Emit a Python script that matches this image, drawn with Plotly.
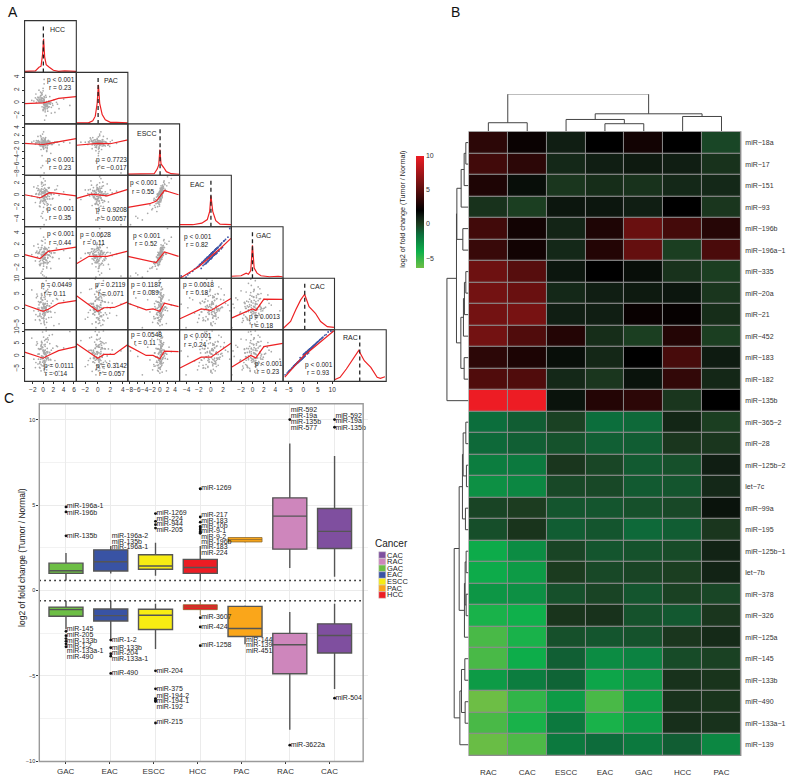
import plotly.graph_objects as go

W, H = 787, 780
FONT = "Liberation Sans"

# ---------- Panel A data: log2 fold change per miRNA ----------
cancers_a = ["HCC", "PAC", "ESCC", "EAC", "GAC", "CAC", "RAC"]
hcc = [0.2,-0.4,0.6,0.1,-0.9,1.1,0.3,-0.2,0.8,-0.6,0.4,1.6,
       -0.1,0.5,-1.3,0.2,0.9,-0.3,0.0,1.3,-0.7,0.7,0.1,-1.8,
       0.4,2.1,-0.5,0.3,-0.1,1.0,0.6,-1.0,0.2,1.9,-0.2,0.5,
       -0.8,0.1,1.4,-0.4,0.3,0.8,-1.5,0.0,0.6,2.6,-0.3,0.2,
       1.2,-0.6,0.4,-0.1,0.9,0.1,-1.1,0.7,3.1,-0.2,0.3,1.5,
       -0.5,0.2,0.5,-2.2,0.0,1.1,-0.4,0.6,0.2,1.8,-0.9,0.4,
       0.3,-0.3,0.8,2.3,-0.7,0.1,0.5,1.0,-1.4,-0.1,0.7,4.0,
       -0.2,0.4,1.3,-0.6,0.2,-1.0,0.9,0.0,2.8,-0.4,0.6,5.2,
       0.1,0.3,-0.7,0.5,0.2,-0.2,0.9,-0.1,0.4,-1.2,0.7,0.0,
       0.6,-0.4,0.2,1.2,-0.3,0.3,-0.8,0.1,1.6,-0.5,0.4,0.2]
pac = [0.5,0.1,-0.6,-0.2,0.8,0.3,-0.1,1.3,-0.9,0.2,-0.4,-1.6,
       0.7,-0.2,0.1,1.0,-0.5,0.4,-1.2,0.0,0.6,0.2,-0.7,0.3,
       -0.3,0.5,1.7,-0.8,0.2,-0.1,-2.0,0.9,0.3,-0.4,0.1,1.2,
       0.4,-1.0,-0.2,0.6,0.0,-0.5,0.8,2.3,-0.3,0.1,1.5,-0.7,
       -0.1,0.9,-1.4,0.3,-0.6,0.2,0.5,-0.2,-0.9,0.7,-2.7,0.1,
       1.1,-0.3,-0.8,0.4,1.9,0.0,0.6,-0.5,3.0,-0.1,0.2,-1.1,
       0.8,0.3,-0.4,-1.5,0.1,0.5,-0.2,-0.7,1.4,0.2,-0.3,0.6,
       -0.6,-0.1,1.0,0.3,3.7,0.4,-1.3,0.7,-0.2,0.1,0.9,-0.4,
       0.2,-0.8,0.5,0.0,-0.3,1.6,-0.1,0.3,-0.5,0.6,0.1,-1.0,
       -0.2,1.2,0.4,-0.6,0.8,-0.4,2.0,0.1,-0.7,0.3,-0.1,0.5]
escc = [-0.2,0.6,0.1,-0.7,0.4,-0.1,1.0,0.3,-1.4,0.2,0.5,-0.3,
        0.3,-1.1,0.7,0.0,-0.5,0.2,1.4,-0.2,0.4,-2.1,0.1,0.6,
        0.9,0.0,-0.4,0.5,-0.9,-0.1,0.3,1.8,-0.6,0.2,-3.2,0.4,
        -0.3,0.7,0.1,-1.6,0.5,0.2,-0.2,0.8,-4.6,0.3,1.2,0.0,
        0.4,-0.6,0.2,2.4,-0.1,-1.2,0.6,0.1,-0.4,0.9,0.3,-2.6,
        -0.5,0.1,1.5,0.3,-0.8,0.5,-6.3,0.2,0.0,-0.3,0.7,1.1,
        0.6,-0.2,-1.0,0.4,0.1,3.0,-0.6,0.8,0.2,-0.1,-1.9,0.3,
        0.0,1.3,0.5,-0.4,-7.7,0.2,0.6,-0.7,0.3,1.7,-0.2,0.1,
        -1.3,0.4,-0.1,0.7,0.2,-0.5,0.3,-5.8,0.9,0.1,-0.3,0.5,
        0.2,-0.7,0.6,0.0,1.0,-0.2,0.4,-1.5,0.1,2.0,0.3,-0.4]
eac = [-0.5,0.9,-0.4,-1.3,0.2,0.5,1.2,-0.1,-1.7,0.7,0.1,0.3,
       0.6,-0.7,0.3,-0.9,0.1,1.1,1.0,-0.6,0.4,-2.4,-0.2,1.4,
       0.5,0.2,-1.1,0.8,-0.3,-1.5,0.9,1.6,0.0,-0.5,-3.0,0.6,
       0.1,1.7,0.3,-0.8,-0.2,0.7,-1.2,0.4,-4.1,1.0,1.9,-0.3,
       1.3,-1.9,0.2,2.1,0.6,-2.0,-0.4,0.9,0.0,1.5,-0.7,-1.6,
       -1.0,0.4,0.8,-0.1,-2.7,1.2,-3.5,0.3,0.7,-0.6,1.1,2.4,
       0.0,0.5,-1.4,0.9,-0.5,2.8,-0.2,1.3,0.2,-1.0,-2.2,0.6,
       -0.4,1.8,0.3,-1.3,-4.9,0.8,-0.1,-0.8,1.6,0.7,0.2,-0.7,
       -0.9,0.1,-1.8,1.0,0.5,0.3,-0.6,-3.8,0.8,1.2,-0.3,0.4,
       -1.1,0.2,0.6,-0.2,2.2,-1.5,0.9,-0.5,0.1,3.1,-0.9,0.0]
gac = [-0.2,1.2,-0.7,-1.0,0.6,0.2,1.6,-0.4,-1.3,1.1,-0.2,0.6,
       0.3,-1.1,0.7,-0.5,-0.3,1.5,0.6,-0.9,0.8,-2.0,-0.5,1.8,
       0.2,0.6,-1.4,1.3,-0.1,-1.1,0.5,2.1,-0.4,-0.2,-2.6,0.3,
       0.5,1.3,0.0,-1.2,-0.5,1.1,-0.8,0.1,-3.6,1.4,1.5,0.1,
       1.0,-1.5,0.6,2.6,0.3,-1.7,-0.1,1.3,-0.4,1.9,-0.3,-2.1,
       -0.7,0.8,0.4,0.3,-2.2,1.5,-2.9,0.7,0.4,-0.2,1.5,2.9,
       0.4,0.2,-1.0,0.6,-0.9,3.3,0.2,0.9,0.6,-0.7,-1.8,1.0,
       -0.1,2.3,0.7,-1.6,-3.4,0.5,0.3,-1.2,2.0,0.4,0.5,-0.3,
       -1.3,0.5,-1.4,1.4,0.2,0.7,-0.2,-3.2,1.2,0.9,-0.7,0.8,
       -0.7,-0.2,0.9,0.2,2.7,-1.1,0.6,-0.9,0.5,4.8,-0.5,0.3]
cac = [-1.2,3.4,0.6,-3.0,2.5,-0.9,0.1,4.6,1.8,-1.5,0.4,-2.8,
       2.9,0.2,3.8,-4.0,-1.1,5.2,-0.4,1.0,-2.3,6.1,1.5,-0.6,
       4.1,-5.6,2.2,0.8,-1.8,5.7,-3.4,0.3,-4.7,2.7,3.1,-1.3,
       1.4,6.8,-0.8,-2.6,0.9,4.9,-3.7,2.0,-6.3,3.5,0.5,-1.6,
       7.4,-2.0,1.7,3.0,-0.3,-3.2,4.3,1.1,-5.0,0.1,5.5,-1.0,
       2.4,-4.3,0.7,6.4,-1.4,-2.9,3.7,0.0,-2.2,7.9,-0.7,1.9,
       -5.3,4.0,2.6,-1.2,-3.6,1.3,5.9,-0.2,-1.9,8.6,-4.5,2.8,
       -0.5,0.6,4.4,-3.9,1.6,-2.5,6.6,0.2,3.2,-4.9,9.5,10.0,
       0.8,-1.7,2.1,-0.1,3.9,-3.1,1.2,0.4,-2.0,5.0,-0.9,1.6,
       -0.3,2.3,-2.4,0.9,4.7,-1.0,0.3,-3.3,1.9,-0.6,3.3,0.5]
rac = [-1.7,3.9,0.1,-3.6,3.0,-1.5,0.7,5.3,1.3,-2.1,0.9,-3.4,
       3.4,-0.3,4.4,-4.8,-0.6,5.9,-0.9,1.5,-2.9,6.8,2.0,-1.2,
       4.7,-6.7,2.9,1.2,-2.4,6.5,-4.1,0.8,-5.6,3.2,3.6,-1.9,
       0.9,7.6,-1.3,-3.3,1.5,5.6,-4.5,2.5,-7.4,4.1,0.1,-2.2,
       8.3,-2.5,2.3,3.6,-0.8,-3.9,5.0,1.7,-6.0,-0.4,6.2,-1.5,
       3.0,-5.2,1.2,7.2,-1.9,-3.6,4.3,0.5,-2.8,8.6,-1.2,2.4,
       -6.3,4.6,3.1,-1.7,-4.4,1.8,6.7,-0.7,-2.5,9.6,-5.4,3.3,
       -1.0,1.1,5.0,-4.7,2.1,-3.1,7.3,-0.2,3.8,-5.8,10.0,9.8,
       1.3,-2.3,2.7,-0.7,4.5,-3.8,1.8,-0.1,-2.6,5.7,-1.4,2.2,
       -0.9,2.9,-3.0,1.4,5.4,-1.6,0.8,-4.0,2.4,-1.2,3.9,1.0]
series_a = [hcc, pac, escc, eac, gac, cac, rac]

col_ranges = [(-3.6,6.46),(-3.43,4.8),(-8.4,5.17),(-5.16,3.36),(-3.7,5.36),(-7,10.8),(-10,10.5)]
row_ranges = [None,(-3.3,4.8),(-8.3,5.05),(-5.25,3.35),(-3.8,5.1),(-7,10.3),(-10,10.5)]
col_ticks = [[-2,0,2,4,6],[-2,0,2,4],[-8,-6,-4,-2,0,2,4],[-4,-2,0,2],[-2,0,2,4],[-5,0,5,10],[]]
row_ticks = [[],[-2,0,2,4],[-8,-6,-4,-2,0,2,4],[-4,-2,0,2],[-2,0,2,4],[-5,0,5,10],[-5,0,5,10]]
grid_left = [22.7,74.7,126.5,178.5,230.5,282.5,334.2,386.2]
grid_top = [16.8,69,121,172.8,224.8,276.8,328.7,380.8]

# smooth (row, col): x values, y values
smooth = {
 (1,0):([-3.6,0,1,3,6.4],[-0.1,0,0.2,0.7,1]),
 (2,0):([-3.6,0,1,6.4],[0,-0.3,-0.1,1.2]),
 (2,1):([-3.4,0,2,4.8],[-0.5,0,-0.1,0.9]),
 (3,0):([-3.6,-0.5,1.2,2,6.4],[0.1,-0.4,0.45,0.4,-0.1]),
 (3,1):([-3.4,-1,1.5,4.8],[-0.5,0.2,-0.1,1]),
 (3,2):([-8.4,-2.7,-1,0,1.2,4.9],[-2,-1.4,-1,-0.1,0.8,0.1]),
 (4,0):([-3.6,-0.6,1,2,6.4],[0.3,-0.4,0.85,1,1.6]),
 (4,1):([-3.4,-1.4,1.5,4.8],[-1.3,0,0,0.9]),
 (4,2):([-8.4,-1,1.2,4.9],[0,-1.1,0.75,0]),
 (4,3):([-5.1,-2,0,1.5,3.3],[-3.8,-1.8,0,1.3,3.1]),
 (5,0):([-3.6,0,1,3,6.4],[1.4,-0.8,-0.1,1.9,2.8]),
 (5,1):([-3.4,0,1,2.6,4.8],[4.4,-0.8,0.4,0.5,2.4]),
 (5,2):([-8.4,-3.6,-1.8,0,1.2,4.9],[1.9,-0.3,0,-0.8,1.9,0.8]),
 (5,3):([-5.1,-1.6,0,3.3],[-3.3,0,-0.5,3.5]),
 (5,4):([-3.6,0,0.6,2,5.3],[-3,0,-0.5,3.3,3.2]),
 (6,0):([-3.6,0,1,3,6.4],[1.6,-0.8,0.3,2.2,3.8]),
 (6,1):([-3.4,0,1,2.6,4.8],[4.9,-0.8,0.7,0.7,4.6]),
 (6,2):([-8.4,-3.6,-1.8,0,1.2,4.9],[4.2,0.3,0.3,-1,2,1.8]),
 (6,3):([-5.1,-1.6,0,3.3],[-4.7,-0.4,-0.4,5.1]),
 (6,4):([-3.6,-0.3,0.6,2,5.3],[-4.3,0.3,-0.7,3.8,5.1]),
 (6,5):([-6.4,0,10.6],[-8.3,0,10.1]),
}
# density curves on diagonal: x, relative height
density_x = [
 [-3.6,-1.5,-0.8,-0.4,-0.1,0.1,0.3,0.6,1.2,2,3,4.2,6.4],
 [-3.4,-1.5,-0.8,-0.4,-0.1,0.1,0.3,0.7,1.2,2,3,4.8],
 [-8.4,-3,-1.5,-0.7,-0.3,0,0.3,1,1.7,3,5.1],
 [-5.1,-3,-1.5,-0.6,-0.2,0,0.3,0.8,1.5,3.3],
 [-3.7,-2,-1.1,-0.7,-0.3,0,0.3,0.8,1.5,3,4.5,5.3],
 [-6.9,-4.4,-2.6,-0.9,0.46,2,4.2,6,8.3,10.6],
 [-10,-7.8,-5.3,-2.7,-0.4,1.8,4.4,6.9,8.2,10],
]
density_h = [
 [.02,.03,.1,.12,.35,.65,.3,.15,.1,.04,.02,.03,.02],
 [.02,.02,.06,.15,.4,.76,.4,.18,.08,.03,.03,.02],
 [.02,.02,.03,.12,.2,.5,.22,.15,.07,.03,.02],
 [.04,.04,.07,.14,.3,.6,.3,.12,.05,.04],
 [.04,.05,.1,.08,.15,.64,.2,.1,.05,.03,.04,.03],
 [.03,.16,.39,.58,.69,.45,.32,.16,.06,.045],
 [.03,.08,.24,.43,.6,.4,.27,.08,.06,.09],
]
diag_center = [0.05, 0.05, 0.05, 0, 0, 0.5, 0]
# (row, col): p text, r text, p-centre px, r-centre px
stats = [
 (1,0,"p < 0.001","r = 0.23",(59.3,76.7),(59.3,84.7)),
 (2,0,"p < 0.001","r = 0.23",(59.3,157),(59.3,165)),
 (2,1,"p = 0.7723","r = −0.017",(110.3,157),(110.3,165)),
 (3,0,"p < 0.001","r = 0.35",(59.3,207),(59.3,215)),
 (3,1,"p = 0.9208","r = 0.0057",(110.3,208),(110.3,216)),
 (3,2,"p < 0.001","r = 0.55",(142.7,181),(142.7,189)),
 (4,0,"p < 0.001","r = 0.44",(59.3,232.3),(59.3,240.3)),
 (4,1,"p = 0.0628","r = 0.11",(93.7,233),(92.3,241)),
 (4,2,"p < 0.001","r = 0.52",(145.7,234),(145.7,242)),
 (4,3,"p < 0.001","r = 0.82",(196.7,234.7),(196.7,242.7)),
 (5,0,"p = 0.0449","r = 0.11",(55,284),(53.3,292)),
 (5,1,"p = 0.2119","r = 0.071",(109.3,284),(109.3,292)),
 (5,2,"p = 0.1187","r = 0.089",(145.7,283.3),(145,291.3)),
 (5,3,"p = 0.0018","r = 0.18",(197.7,283.3),(196.7,291.3)),
 (5,4,"p = 0.0013","r = 0.18",(264.3,316),(262.3,324)),
 (6,0,"p = 0.0111","r = 0.14",(57,365.3),(55,373.3)),
 (6,1,"p = 0.3142","r = 0.057",(110.3,365.3),(110.3,373.3)),
 (6,2,"p = 0.0548","r = 0.11",(145.7,334),(144,342)),
 (6,3,"p < 0.001","r = 0.24",(196.7,335.3),(194.3,343.3)),
 (6,4,"p < 0.001","r = 0.23",(268.3,363.3),(268.3,371.3)),
 (6,5,"p < 0.001","r = 0.93",(319,364),(318.3,372)),
]
diag_label_pos = [(55.3,25.7),(109.7,77.3),(145.7,130.3),(196,182.3),(263,233.7),(316.7,285.3),(350.3,337)]

# ---------- Panel C data ----------
cats_c = ["GAC","EAC","ESCC","HCC","PAC","RAC","CAC"]
box_colors = ["#6DBE45","#3953A4","#F7EC13","#ED1C24","#FAA61A","#CE86BC","#7F4F9F"]
up_low  = [0.58,1.0,0.87,0.58,2.8,1.32,0.81]
up_q1   = [1.0,1.14,1.24,1.0,2.84,2.42,2.46]
up_med  = [1.16,1.68,1.43,1.35,2.98,4.35,3.46]
up_q3   = [1.6,2.38,2.09,1.82,3.1,5.42,4.8]
up_high = [2.19,2.6,2.8,2.6,3.1,8.6,7.87]
dn_low  = [-2.26,-2.84,-3.42,-1.45,-3.15,-8.14,-5.76]
dn_q1   = [-1.51,-1.78,-2.28,-1.12,-2.69,-4.87,-3.66]
dn_med  = [-1.12,-1.47,-1.45,-0.97,-2.22,-3.17,-2.63]
dn_q3   = [-0.97,-1.08,-1.10,-0.83,-0.93,-2.51,-1.95]
dn_high = [-0.6,-0.6,-0.77,-0.64,-0.87,-1.26,-0.77]
out_cat = [0,0,0, 0,0,0,0,0,0, 1,1,1,1,1, 2,2,2,2, 2,2,2,2,2,2,
           3,3,3,3,3,3,3,3,3,3, 3,3,3, 5,5, 6,6,6]
out_val = [4.89,4.6,3.2, -2.39,-2.64,-2.81,-2.97,-3.12,-3.29,
           -2.9,-3.35,-3.7,-3.84,-4.85,
           4.5,4.05,3.85,3.65, -4.7,-5.75,-6.32,-6.42,-6.5,-7.75,
           5.95,4.3,4.0,3.75,3.65,3.55,3.45,3.4,3.35,5.95,
           -1.59,-2.13,-3.23, 10,-9.05, 10,9.55,-6.3]
lab_cat = [0,0,0, 0,0,0,0,0,0, 1,1,1, 1,1,1,1,1, 2,2,2,2, 2,2,2,2,2,2,
           3, 3,3,3,3,3,3,3,3, 3,3,3, 4,4,4, 5,5,5,5,5, 6,6,6,6]
lab_val = [4.93,4.54,3.2, -2.27,-2.62,-2.95,-3.24,-3.54,-3.91,
           3.15,2.84,2.53, -2.9,-3.35,-3.68,-4.02,-4.85,
           4.54,4.15,3.87,3.51, -4.7,-5.75,-6.16,-6.5,-6.82,-7.72,
           5.98, 4.39,4.07,3.78,3.45,3.14,2.83,2.53,2.19, -1.55,-2.13,-3.23,
           -2.9,-3.2,-3.55, 10.53,10.2,9.83,9.49,-9.05, 10.2,9.89,9.51,-6.3]
lab_txt = ["miR-196a-1","miR-196b","miR-135b","miR-145","miR-205","miR-133b","miR-1-2","miR-133a-1","miR-490",
           "miR-196a-2","miR-135b","miR-196a-1","miR-1-2","miR-133b","miR-204","miR-133a-1","miR-490",
           "miR-1269","miR-224","miR-944","miR-205","miR-204","miR-375","miR-194-2","miR-194-1","miR-192","miR-215",
           "miR-1269","miR-217","miR-183","miR-10b","miR-9-1","miR-9-2","miR-196b","miR-183","miR-224","miR-3607","miR-424","miR-1258",
           "miR-144","miR-139","miR-451","miR-592","miR-19a","miR-135b","miR-577","miR-3622a",
           "miR-592","miR-19a","miR-135b","miR-504"]
legend_names = ["CAC","RAC","GAC","EAC","ESCC","PAC","HCC"]
legend_cols = ["#7F4F9F","#CE86BC","#6DBE45","#3953A4","#F7EC13","#FAA61A","#ED1C24"]

# ---------- Panel B data ----------
heat_cols = ["RAC","CAC","ESCC","EAC","GAC","HCC","PAC"]
heat_rows = ["miR−18a","miR−17","miR−151","miR−93","miR−196b","miR−196a−1","miR−335","miR−20a","miR−21",
             "miR−452","miR−183","miR−182","miR−135b","miR−365−2","miR−28","miR−125b−2","let−7c","miR−99a",
             "miR−195","miR−125b−1","let−7b","miR−378","miR−326","miR−125a","miR−145","miR−133b","miR−490",
             "miR−133a−1","miR−139"]
heat_z = [
 [3.5,2.35,1.05,2,2.6,2,-.3],
 [4.2,3.5,.7,1.05,1.2,1.05,.35],
 [3,1.55,.2,.55,.35,.7,.7],
 [.35,-.05,1.3,1.3,1.05,2,.2],
 [4.2,2.6,.85,3,5.55,4.3,3.3],
 [3.9,2.6,.7,3.2,5.4,-.05,4.5],
 [5.7,4.9,1.3,2,1.55,.35,-.05],
 [5.9,5.55,.7,1.05,1.2,1.3,.2],
 [5.9,6.05,1.05,1.05,2.3,2.2,.55],
 [5.9,4.7,3.2,.55,-.05,3.2,-.05],
 [3.5,2.95,1.55,.75,2,4.4,1.15],
 [4.7,4.7,.7,.2,1.4,3.7,.75],
 [10,10,1.4,3.2,3.5,.2,2],
 [-1.5,-1,-.15,-1.5,-1.35,.8,-.05],
 [-1.35,-1.05,-.65,-1.05,-1,.2,.2],
 [-2.05,-1.9,.2,-.3,-.9,-.6,1.05],
 [-2.8,-2.45,-.35,-.35,-.9,-.75,.7],
 [-.25,0,-.75,-.75,-.6,-.35,1.4],
 [-.55,.3,-1,-.75,-1.35,-1,.2],
 [-3.8,-2.65,-.25,-.75,-.65,-.45,.9],
 [-3.8,-3.2,.05,-.35,-.25,-.05,.9],
 [-3,-2.8,-.6,-.25,-.75,-.15,-.3],
 [-4.3,-4.05,.3,.35,-.65,-.85,.2],
 [-5.5,-4.3,-.6,-.75,-.65,.2,.65],
 [-5.5,-3.9,-1.05,-2.65,-2.25,-.45,-.15],
 [-3.2,-2.05,-1.2,-3.6,-3,.35,.3],
 [-6.4,-4.9,-3.2,-5.5,-3.3,.35,.3],
 [-5.5,-4.3,-1.9,-4.3,-3.2,.45,.35],
 [-6.3,-5.6,-1.9,-1.45,-1.9,-1,-2.45],
]
heat_stops = [(-6.4,"rgb(109,190,69)"),(-4,"rgb(13,176,75)"),(-1.5,"rgb(12,110,60)"),(0,"rgb(28,60,32)"),
              (1,"rgb(17,32,20)"),(2,"rgb(0,0,0)"),(6,"rgb(118,18,18)"),(10,"rgb(237,28,36)")]
# dendrograms: nested (left, right, height)
col_tree = ((0,1,8.7), ((2,(3,4,7.7),12), (5,6,15), 17.7), 37.7)
row_tree_top = (((((0,1,2.6),2,4.3),3,7.3),(4,5,5.6),11.6),
                ((((6,7,2.6),8,4),9,5),(10,11,4.3),7.6), 12)
row_tree_top = (row_tree_top,12,21.6)
row_tree_low1 = ((((13,14,2.6),(15,16,2),5.3),(17,18,3),6),
                 (((19,20,2.3),(21,22,2.3),3.3),23,4),9.3)
row_tree_low2 = (((24,25,3.6),(26,27,3.3),7),28,8.6)
row_tree_low = (row_tree_low1,row_tree_low2,14.3)

# ---------- helpers ----------
def fx(p): return p / W
def fy(p): return 1 - p / H
def dom_x(a, b): return [fx(a), fx(b)]
def dom_y(a, b): return [fy(b), fy(a)]

def tree_lines(node, along, across):
    """Return (position, height) of node and append bracket lines to the lists."""
    if not isinstance(node, tuple):
        return float(node), 0.0
    pa, ha = tree_lines(node[0], along, across)
    pb, hb = tree_lines(node[1], along, across)
    h = node[2]
    along += [pa, pa, pb, pb, None]
    across += [ha, h, h, hb, None]
    return (pa + pb) / 2, h

fig = go.Figure()
layout = dict(width=W, height=H, margin=dict(l=0, r=0, t=0, b=0, pad=0),
              paper_bgcolor="white", plot_bgcolor="white", showlegend=False,
              font=dict(family=FONT, color="#222222"))
shapes, annots = [], []

def note(x, y, text, size, anchor="center", angle=0, color="#222222"):
    annots.append(dict(xref="paper", yref="paper", x=fx(x), y=fy(y), text=text, showarrow=False,
                       xanchor=anchor, yanchor="middle", textangle=angle, borderpad=0, borderwidth=0,
                       font=dict(size=size, color=color, family=FONT)))

# ---------- Panel A axes ----------
for j in range(7):
    key = "xaxis" if j == 0 else f"xaxis{j+1}"
    layout[key] = dict(domain=dom_x(grid_left[j], grid_left[j+1]), range=list(col_ranges[j]),
                       anchor="y6", tickmode="array", tickvals=col_ticks[j], ticks="outside" if col_ticks[j] else "",
                       ticklen=2, tickwidth=0.8, tickcolor="#333", tickangle=0, tickfont=dict(size=6.5, color="#333"),
                       showgrid=False, zeroline=False, showline=False)
for i in range(1, 7):
    key = "yaxis" if i == 1 else f"yaxis{i}"
    layout[key] = dict(domain=dom_y(grid_top[i], grid_top[i+1]), range=list(row_ranges[i]),
                       anchor="x", tickmode="array", tickvals=row_ticks[i], ticks="outside",
                       ticklen=2, tickwidth=0.8, tickcolor="#333", tickangle=-90, tickfont=dict(size=6.5, color="#333"),
                       showgrid=False, zeroline=False, showline=False)
for i in range(7):
    layout[f"yaxis{7+i}"] = dict(domain=dom_y(grid_top[i], grid_top[i+1]), range=[0, 1], anchor=("x" if i == 0 else f"x{i+1}"),
                                 visible=False, showgrid=False, zeroline=False)

def xa(j): return "x" if j == 0 else f"x{j+1}"
def ya(i): return "y" if i == 1 else f"y{i}"

for r in range(1, 7):
    for c in range(r):
        blue = (r, c) in ((4, 3), (6, 5))
        fig.add_trace(go.Scatter(x=series_a[c], y=series_a[r], mode="markers", xaxis=xa(c), yaxis=ya(r),
                                 marker=dict(size=1.8 if blue else 1.7, color="#3f56a6" if blue else "#a9a9a9", line=dict(width=0))))
for (r, c), (sx, sy) in smooth.items():
    fig.add_trace(go.Scatter(x=sx, y=sy, mode="lines", xaxis=xa(c), yaxis=ya(r), line=dict(color="#ED2224", width=1.2)))
for k in range(7):
    fig.add_trace(go.Scatter(x=density_x[k], y=density_h[k], mode="lines", xaxis=xa(k), yaxis=f"y{7+k}",
                             line=dict(color="#ED2224", width=1.2)))
    fig.add_trace(go.Scatter(x=[diag_center[k]]*2, y=[0, 0.9], mode="lines", xaxis=xa(k), yaxis=f"y{7+k}",
                             line=dict(color="#222", width=1.3, dash="4px,3px")))
    note(*diag_label_pos[k], cancers_a[k], 7)
    for r in range(k, 7):
        shapes.append(dict(type="rect", xref="paper", yref="paper", x0=fx(grid_left[k]), x1=fx(grid_left[k+1]),
                           y0=fy(grid_top[r+1]), y1=fy(grid_top[r]), line=dict(color="#333", width=1.1), layer="above"))
for r, c, p, t, pp, tp in stats:
    note(*pp, p, 6.5)
    note(*tp, t, 6.5)

# ---------- Panel C ----------
Cx, Cy, Ct = "x8", "y14", "x9"
c_left, c_right, c_top, c_bot = 37.5, 368, 403.3, 764.3
layout["xaxis8"] = dict(domain=dom_x(c_left, c_right), range=[-0.596, 6.75], anchor=Cy,
                        tickmode="array", tickvals=list(range(7)), showticklabels=False, ticks="",
                        showgrid=True, gridcolor="#ebebeb", gridwidth=1, zeroline=False, showline=False)
layout["yaxis14"] = dict(domain=dom_y(c_top, c_bot), range=[-10, 10.93], anchor=Cx,
                         tickmode="array", tickvals=[-10,-5,0,5,10], ticks="outside", ticklen=2, tickwidth=0.8,
                         tickcolor="#333", tickfont=dict(size=5.5, color="#333"), showgrid=True, gridcolor="#ebebeb",
                         gridwidth=1, zeroline=False, showline=False,
                         minor=dict(tickmode="array", tickvals=[-7.5,-2.5,2.5,7.5], showgrid=True, gridcolor="#f2f2f2", gridwidth=0.6, ticks=""))
layout["xaxis9"] = dict(domain=dom_x(c_left, c_right), range=[-0.6, 6.88], anchor=Cy, overlaying="x8",
                        tickmode="array", tickvals=list(range(7)), ticktext=cats_c, ticks="outside", ticklen=2,
                        tickwidth=0.8, tickcolor="#333", tickfont=dict(size=8, color="#333"),
                        showgrid=False, zeroline=False, showline=False)
fig.add_trace(go.Scatter(x=[0], y=[None], mode="markers", xaxis=Ct, yaxis=Cy, hoverinfo="skip"))
for i in range(7):
    for lo, q1, med, q3, hi in ((up_low, up_q1, up_med, up_q3, up_high), (dn_low, dn_q1, dn_med, dn_q3, dn_high)):
        thin = q3[i] - q1[i] < 0.3
        fig.add_trace(go.Box(x=[i], q1=[q1[i]], median=[med[i]], q3=[q3[i]], lowerfence=[lo[i]], upperfence=[hi[i]],
                             width=0.76, whiskerwidth=0, boxpoints=False, fillcolor=box_colors[i],
                             line=dict(color="#8a6a30" if thin else "#555555", width=0.8 if thin else 1.4),
                             xaxis=Cx, yaxis=Cy))
for v in (0.585, -0.6):
    fig.add_trace(go.Scatter(x=[-0.596, 6.66], y=[v, v], mode="lines", xaxis=Cx, yaxis=Cy,
                             line=dict(color="#111", width=1.5, dash="1.5px,3.5px")))
fig.add_trace(go.Scatter(x=out_cat, y=out_val, mode="markers", xaxis=Cx, yaxis=Cy,
                         marker=dict(size=2.8, color="#111", line=dict(width=0))))
fig.add_trace(go.Scatter(x=[c + 0.02 for c in lab_cat], y=lab_val, text=lab_txt, mode="text", xaxis=Cx, yaxis=Cy,
                         textposition="middle right", textfont=dict(size=7, color="#222", family=FONT), cliponaxis=False))
shapes.append(dict(type="rect", xref="paper", yref="paper", x0=fx(37.5), x1=fx(363), y0=fy(c_bot), y1=fy(c_top),
                   line=dict(color="#9a9a9a", width=1.4), layer="above"))
note(20, 558, "log2 of fold change (Tumor / Normal)", 8.5, angle=-90)
note(375, 544, "Cancer", 10, anchor="left")
for k, (n, col) in enumerate(zip(legend_names, legend_cols)):
    yc = 556 + 6.72 * k
    shapes.append(dict(type="rect", xref="paper", yref="paper", x0=fx(378.7), x1=fx(385.7), y0=fy(yc+3.3), y1=fy(yc-3.3),
                       fillcolor=col, line=dict(width=0.5, color="#ccc"), layer="above"))
    note(387, yc, n, 7.5, anchor="left")

# ---------- Panel B ----------
hx, hy = "x10", "y15"
hl, hr, ht, hb = 469.3, 742.7, 129, 758.3
shapes.append(dict(type="rect", xref="paper", yref="paper", x0=fx(hl-0.5), x1=fx(hr+0.5), y0=fy(hb+0.5), y1=fy(ht-0.5),
                   fillcolor="#8c8c8c", line=dict(width=0), layer="below"))
layout["xaxis10"] = dict(domain=dom_x(hl, hr), range=[-0.5, 6.5], anchor=hy, tickmode="array", tickvals=list(range(7)),
                         ticktext=heat_cols, ticks="outside", ticklen=9, tickcolor="rgba(0,0,0,0)",
                         tickfont=dict(size=8, color="#333"), showgrid=False, zeroline=False, showline=False)
layout["yaxis15"] = dict(domain=dom_y(ht, hb), range=[28.5, -0.5], anchor=hx, side="right", tickmode="array",
                         tickvals=list(range(29)), ticktext=heat_rows, ticks="outside", ticklen=2, tickcolor="rgba(0,0,0,0)",
                         tickfont=dict(size=7, color="#333"), showgrid=False, zeroline=False, showline=False)
layout["xaxis11"] = dict(domain=dom_x(440, hl-0.5), range=[28.8, 0], anchor=hy, visible=False)
layout["yaxis16"] = dict(domain=dom_y(91, ht-0.5), range=[0, 37.5], anchor=hx, visible=False)
lo, hi = heat_stops[0][0], heat_stops[-1][0]
fig.add_trace(go.Heatmap(z=heat_z, x=list(range(7)), y=list(range(29)), zmin=lo, zmax=hi, xgap=1, ygap=1.2,
                         colorscale=[[(v - lo) / (hi - lo), c] for v, c in heat_stops], xaxis=hx, yaxis=hy,
                         colorbar=dict(x=fx(415.7), xanchor="left", y=fy(153), yanchor="top", len=113/H, lenmode="fraction",
                                       thickness=7.6, thicknessmode="pixels", tickmode="array", tickvals=[-5,0,5,10],
                                       ticks="", tickfont=dict(size=7, color="#333"), outlinewidth=0, borderwidth=0,
                                       xpad=0, ypad=0)))
note(401.7, 207, "log2 of fold change (Tumor / Normal)", 7.2, angle=-90)
cx_, cy_ = [], []
tree_lines(col_tree, cx_, cy_)
fig.add_trace(go.Scatter(x=cx_, y=cy_, mode="lines", xaxis=hx, yaxis="y16", line=dict(color="#444", width=1)))
for tree in (row_tree_top, row_tree_low):
    ry, rx = [], []
    tree_lines(tree, ry, rx)
    fig.add_trace(go.Scatter(x=rx, y=ry, mode="lines", xaxis="x11", yaxis=hy, line=dict(color="#444", width=1)))

note(6, 8, "A", 14, anchor="left", color="#111")
note(451, 8, "B", 14, anchor="left", color="#111")
note(2, 398, "C", 14, anchor="left", color="#111")

layout["shapes"] = shapes
layout["annotations"] = annots
fig.update_layout(**layout)
fig.write_html("out.html", config={"displayModeBar": False},
               post_script="document.documentElement.style.overflow='hidden';document.body.style.margin='0';")
